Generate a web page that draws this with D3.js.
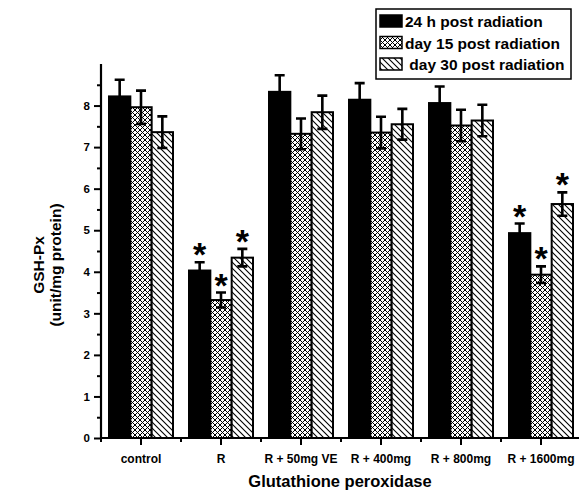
<!DOCTYPE html>
<html><head><meta charset="utf-8">
<script src="https://cdn.jsdelivr.net/npm/d3@7/dist/d3.min.js"></script>
<style>
html,body{margin:0;padding:0;background:#fff;}
text{font-family:"Liberation Sans",Arial,sans-serif;font-weight:bold;fill:#000;}
</style></head>
<body>
<svg id="chart" width="579" height="491"></svg>
<script>
const categories = ["control","R","R + 50mg VE","R + 400mg","R + 800mg","R + 1600mg"];
const seriesNames = ["24 h post radiation","day 15 post radiation"," day 30 post radiation"];
const h24  = [8.22, 4.03, 8.33, 8.14, 8.06, 4.93];
const err24 = [0.40, 0.20, 0.40, 0.40, 0.40, 0.23];
const d15  = [7.96, 3.32, 7.32, 7.35, 7.52, 3.93];
const err15 = [0.40, 0.18, 0.37, 0.38, 0.38, 0.20];
const d30  = [7.36, 4.34, 7.84, 7.55, 7.64, 5.63];
const err30 = [0.38, 0.21, 0.40, 0.37, 0.38, 0.28];
const sig24 = [false, true, false, false, false, true];
const sig15 = [false, true, false, false, false, true];
const sig30 = [false, true, false, false, false, true];
const yTicks = [0,1,2,3,4,5,6,7,8];
const yMinorTicks = [0.5,1.5,2.5,3.5,4.5,5.5,6.5,7.5,8.5];

const svg = d3.select("#chart");
const defs = svg.append("defs");
const ch = defs.append("pattern").attr("id","cross").attr("patternUnits","userSpaceOnUse")
  .attr("width",5).attr("height",5);
ch.append("rect").attr("width",5).attr("height",5).attr("fill","#fff");
ch.append("path").attr("d","M0,0L5,5M5,0L0,5M-1,4L1,6M4,-1L6,1M-1,1L1,-1M4,6L6,4")
  .attr("stroke","#000").attr("stroke-width",1);
const hp = defs.append("pattern").attr("id","hatch").attr("patternUnits","userSpaceOnUse")
  .attr("width",6).attr("height",6);
hp.append("rect").attr("width",6).attr("height",6).attr("fill","#fff");
hp.append("path").attr("d","M0,0L6,6M-1,5L1,7M5,-1L7,1")
  .attr("stroke","#000").attr("stroke-width",1.1);

const fills = ["#000","url(#cross)","url(#hatch)"];
const series = [
  {vals:h24, errs:err24, sig:sig24},
  {vals:d15, errs:err15, sig:sig15},
  {vals:d30, errs:err30, sig:sig30}
];

const x0 = 101, x1 = 581, yBase = 438, yTop = 64;
const x = d3.scaleBand().domain(categories).range([x0,x1]).paddingInner(0.2).paddingOuter(0.1);
const xs = d3.scaleBand().domain([0,1,2]).range([0,x.bandwidth()]);
const y = d3.scaleLinear().domain([0,9]).range([yBase,yTop]);

series.forEach((s,si)=>{
  const g = svg.append("g");
  g.selectAll("rect").data(categories).join("rect")
    .attr("x",(c)=>x(c)+xs(si))
    .attr("y",(c,i)=>y(s.vals[i]))
    .attr("width",xs.bandwidth())
    .attr("height",(c,i)=>y(0)-y(s.vals[i]))
    .attr("fill",fills[si]).attr("stroke","#000").attr("stroke-width",2);
});
series.forEach((s,si)=>{
  const g = svg.append("g").attr("stroke","#000").attr("stroke-width",2.6).attr("fill","none");
  categories.forEach((c,i)=>{
    const cx = x(c)+xs(si)+xs.bandwidth()/2;
    const top = y(s.vals[i]+s.errs[i]), bot = y(s.vals[i]-s.errs[i]);
    g.append("path").attr("d",`M${cx},${top}L${cx},${bot}M${cx-5},${top}L${cx+5},${top}M${cx-5},${bot}L${cx+5},${bot}`);
    if(s.sig[i]){
      svg.append("text").attr("x",cx).attr("y",top+4).attr("text-anchor","middle")
        .style("font-size","34px").text("*");
    }
  });
});

const yAxis = svg.append("g").attr("transform",`translate(${x0},0)`)
  .call(d3.axisLeft(y).tickValues(yTicks).tickSize(7).tickPadding(4).tickFormat(d3.format("d")));
yAxis.select(".domain").remove();
yAxis.selectAll(".tick line").attr("stroke-width",2);
yAxis.selectAll(".tick text").style("font-size","11.5px").style("font-family","'Liberation Sans',Arial,sans-serif").style("font-weight","bold");
const yMinor = svg.append("g").attr("transform",`translate(${x0},0)`)
  .call(d3.axisLeft(y).tickValues(yMinorTicks).tickSize(4).tickFormat(""));
yMinor.select(".domain").remove();
yMinor.selectAll(".tick line").attr("stroke-width",2);
svg.append("line").attr("x1",x0).attr("x2",x0).attr("y1",yTop).attr("y2",yBase+1)
  .attr("stroke","#000").attr("stroke-width",2.2);

const xAxis = svg.append("g").attr("transform",`translate(0,${yBase})`)
  .call(d3.axisBottom(x).tickSize(7).tickPadding(9));
xAxis.select(".domain").remove();
xAxis.selectAll(".tick line").attr("stroke-width",2);
xAxis.selectAll(".tick text").style("font-size","12px").style("font-family","'Liberation Sans',Arial,sans-serif").style("font-weight","bold");
const bounds = d3.range(categories.length+1).map(i=>x0 + i*x.step());
svg.append("g").selectAll("line").data(bounds).join("line")
  .attr("x1",d=>d).attr("x2",d=>d).attr("y1",yBase).attr("y2",yBase+4)
  .attr("stroke","#000").attr("stroke-width",2);
svg.append("line").attr("x1",x0-1).attr("x2",x1).attr("y1",yBase).attr("y2",yBase)
  .attr("stroke","#000").attr("stroke-width",2.2);

svg.append("text").attr("x",340).attr("y",487).attr("text-anchor","middle")
  .style("font-size","16.5px").text("Glutathione peroxidase");
const yt = svg.append("text").attr("transform","translate(0,265) rotate(-90)").attr("text-anchor","middle")
  .style("font-size","15.5px");
yt.append("tspan").attr("x",0).attr("y",44).text("GSH-Px");
yt.append("tspan").attr("x",0).attr("y",61).text("(unit/mg protein)");

const lg = svg.append("g");
lg.append("rect").attr("x",376).attr("y",9).attr("width",195).attr("height",70)
  .attr("fill","#fff").attr("stroke","#000").attr("stroke-width",1.5);
seriesNames.forEach((n,i)=>{
  const ry = 15 + i*21.5;
  lg.append("rect").attr("x",380).attr("y",ry).attr("width",22).attr("height",12)
    .attr("fill",fills[i]).attr("stroke","#000").attr("stroke-width",1.5);
  lg.append("text").attr("x",405).attr("y",ry+12).style("font-size","15.5px")
    .attr("xml:space","preserve").style("white-space","pre").text(n);
});
</script>
</body></html>
